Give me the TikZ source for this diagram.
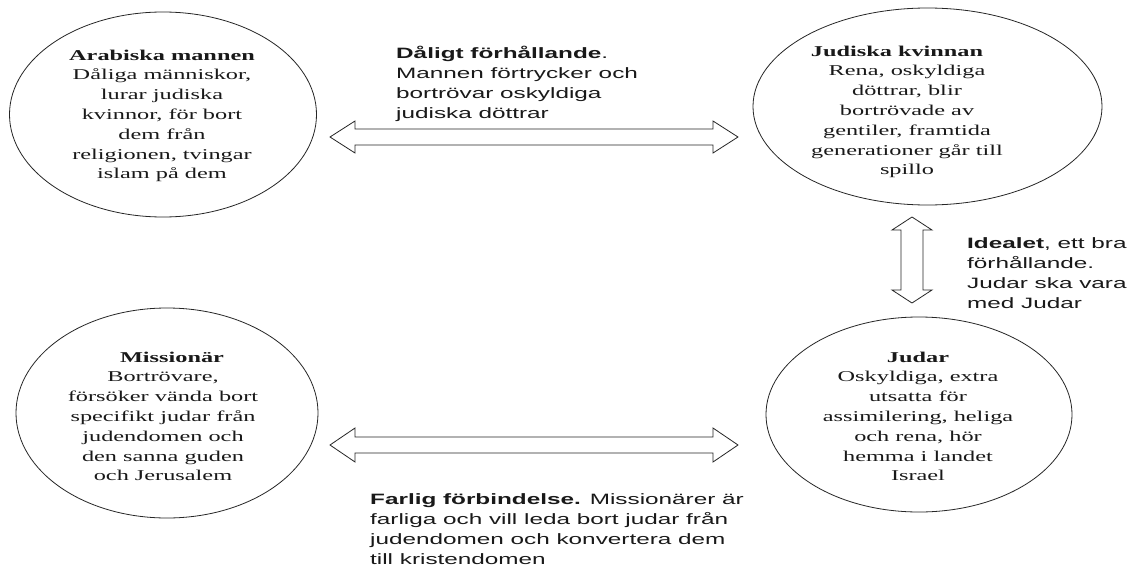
\documentclass[tikz,border=0pt]{standalone}
\usepackage{fontspec}
\setmainfont{Liberation Serif}[FakeStretch=1.62]
\newfontfamily\sansf{Liberation Sans}[FakeStretch=1.62]
\usetikzlibrary{shapes.geometric,calc}
\begin{document}
\begin{tikzpicture}[x=1pt,y=-1pt,
  oval/.style={ellipse, draw=black!85, line width=0.8pt, inner sep=0pt},
  serift/.style={inner sep=0pt, anchor=base, text=black!90, font=\fontsize{15}{19.8}\selectfont},
  sanst/.style={inner sep=0pt, anchor=base west, text=black!90, font=\sansf\fontsize{15}{20}\selectfont},
  blockarrow/.style={draw=black!85, line width=0.8pt, fill=white, line join=miter}]
\useasboundingbox[fill=white] (0,0) rectangle (1128,565);

% ellipses
\node[oval, minimum width=307pt, minimum height=205pt] (arab) at (163,114.5) {};
\node[oval, minimum width=349pt, minimum height=197pt] (kvinna) at (927.5,106.5) {};
\node[oval, minimum width=302pt, minimum height=210pt] (miss) at (167,413) {};
\node[oval, minimum width=306pt, minimum height=195pt] (judar) at (919,414.5) {};

% ellipse texts
\node[serift] (arabt) at (162,60) {\begin{tabular}[t]{@{}c@{}}\textbf{Arabiska mannen}\\ Dåliga människor,\\ lurar judiska\\ kvinnor, för bort\\ dem från\\ religionen, tvingar\\ islam på dem\end{tabular}};
\node[serift] (kvinnat) at (907,56) {\begin{tabular}[t]{@{}c@{}}\textbf{Judiska kvinnan}\hspace*{20pt}\\ Rena, oskyldiga\\ döttrar, blir\\ bortrövade av\\ gentiler, framtida\\ generationer går till\\ spillo\end{tabular}};
\node[serift] (misst) at (163,362) {\begin{tabular}[t]{@{}c@{}}\hspace*{18pt}\textbf{Missionär}\\ Bortrövare,\\ försöker vända bort\\ specifikt judar från\\ judendomen och\\ den sanna guden\\ och Jerusalem\end{tabular}};
\node[serift] (judart) at (918,362) {\begin{tabular}[t]{@{}c@{}}\textbf{Judar}\\ Oskyldiga, extra\\ utsatta för\\ assimilering, heliga\\ och rena, hör\\ hemma i landet\\ Israel\end{tabular}};

% block arrows
\coordinate (a1) at (330,137); \coordinate (a2) at (738,137);
\draw[blockarrow] (a1) -- ++(25,-16) -- ++(0,8) -- ($(a2)+(-25,-8)$) -- ++(0,-8) -- (a2)
  -- ++(-25,16) -- ++(0,-8) -- ($(a1)+(25,8)$) -- ++(0,8) -- cycle;
\coordinate (b1) at (330,445); \coordinate (b2) at (738,445);
\draw[blockarrow] (b1) -- ++(25,-17) -- ++(0,9) -- ($(b2)+(-25,-8)$) -- ++(0,-9) -- (b2)
  -- ++(-25,17) -- ++(0,-9) -- ($(b1)+(25,8)$) -- ++(0,9) -- cycle;
\coordinate (v1) at (912,217); \coordinate (v2) at (912,303);
\draw[blockarrow] (v1) -- ++(20,13) -- ++(-9,0) -- ($(v2)+(11,-13)$) -- ++(9,0) -- (v2)
  -- ++(-20,-13) -- ++(9,0) -- ($(v1)+(-11,13)$) -- ++(-9,0) -- cycle;

% connector labels
\node[sanst] (lab1) at (396,58) {\begin{tabular}[t]{@{}l@{}}\textbf{Dåligt förhållande}.\\ Mannen förtrycker och\\ bortrövar oskyldiga\\ judiska döttrar\end{tabular}};
\node[sanst] (lab2) at (370,504) {\begin{tabular}[t]{@{}l@{}}\textbf{Farlig förbindelse.} Missionärer är\\ farliga och vill leda bort judar från\\ judendomen och konvertera dem\\ till kristendomen\end{tabular}};
\node[sanst] (lab3) at (967,248) {\begin{tabular}[t]{@{}l@{}}\textbf{Idealet}, ett bra\\ förhållande.\\ Judar ska vara\\ med Judar\end{tabular}};
\end{tikzpicture}
\end{document}
